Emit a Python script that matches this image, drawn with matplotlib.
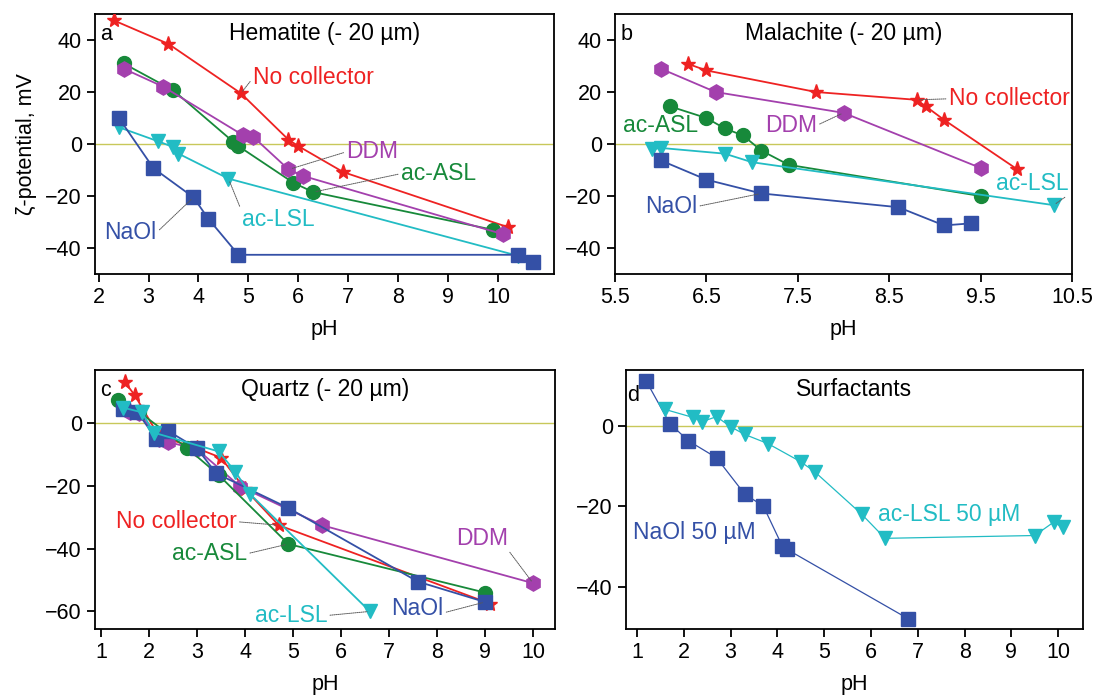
import matplotlib.pyplot as plt

plt.rcParams['font.family'] = ['Liberation Sans', 'DejaVu Sans']
plt.rcParams['font.size'] = 15.5
plt.rcParams['axes.linewidth'] = 1.3

RED = '#ee2222'
PURPLE = '#a340ad'
GREEN = '#17893a'
CYAN = '#22bcc4'
BLUE = '#3450a6'
ZERO = '#c8c85a'

# (a) Hematite
hem_nc_ph = [2.3, 3.4, 4.85, 5.8, 6.0, 6.9, 10.2]
hem_nc_zeta = [47.6, 38.5, 19.5, 1.7, -0.8, -10.8, -32]
hem_ddm_ph = [2.5, 3.3, 4.9, 5.1, 5.8, 6.1, 10.1]
hem_ddm_zeta = [29, 22, 3.3, 2.7, -9.7, -12.3, -34.7]
hem_asl_ph = [2.5, 3.5, 4.7, 4.8, 5.9, 6.3, 9.9]
hem_asl_zeta = [31, 20.6, 0.8, -0.8, -14.9, -18.5, -33]
hem_lsl_ph = [2.4, 3.2, 3.5, 3.6, 4.6, 10.4]
hem_lsl_zeta = [6.5, 1, -1.2, -3.7, -13.3, -43]
hem_naol_ph = [2.4, 3.1, 3.9, 4.2, 4.8, 10.4, 10.7]
hem_naol_zeta = [10.2, -9.3, -20.5, -28.8, -42.6, -42.6, -45.2]

# (b) Malachite
mal_nc_ph = [6.3, 6.5, 7.7, 8.8, 8.9, 9.1, 9.9]
mal_nc_zeta = [30.8, 28.3, 20, 17, 14.5, 9.3, -9.7]
mal_ddm_ph = [6.0, 6.6, 8.0, 9.5]
mal_ddm_zeta = [29, 20, 12, -9.2]
mal_asl_ph = [6.1, 6.5, 6.7, 6.9, 7.1, 7.4, 9.5]
mal_asl_zeta = [14.5, 10, 6, 3.3, -2.5, -8, -20]
mal_lsl_ph = [5.9, 6.0, 6.7, 7.0, 10.3]
mal_lsl_zeta = [-2, -1.5, -3.7, -7, -23.5]
mal_naol_ph = [6.0, 6.5, 7.1, 8.6, 9.1, 9.4]
mal_naol_zeta = [-6.3, -13.7, -19, -24.3, -31.3, -30.5]

# (c) Quartz
qtz_nc_ph = [1.5, 1.7, 2.2, 3.0, 3.5, 4.0, 4.7, 9.1]
qtz_nc_zeta = [13, 9, -4, -8, -11, -21, -32.5, -57.5]
qtz_ddm_ph = [1.6, 1.8, 2.2, 2.4, 3.0, 3.9, 5.6, 10.0]
qtz_ddm_zeta = [3.7, 3.2, -5, -6, -8.3, -20.2, -32.5, -51]
qtz_asl_ph = [1.35, 1.8, 2.8, 3.45, 4.9, 9.0]
qtz_asl_zeta = [7.5, 3.5, -8, -16.5, -38.5, -54]
qtz_lsl_ph = [1.45, 1.85, 2.1, 3.45, 3.8, 4.1, 6.6]
qtz_lsl_zeta = [5, 3.5, -3, -9, -15.5, -22.5, -60]
qtz_naol_ph = [1.45, 1.75, 2.15, 2.4, 3.0, 3.4, 4.9, 7.6, 9.0]
qtz_naol_zeta = [4.5, 3.7, -5, -2.5, -8, -16, -27, -50.5, -57]

# (d) Surfactants
surf_naol_ph = [1.2, 1.7, 2.1, 2.7, 3.3, 3.7, 4.1, 4.2, 6.8]
surf_naol_zeta = [11, 0.5, -3.8, -8, -17, -20, -29.8, -30.7, -48]
surf_lsl_ph = [1.6, 2.2, 2.4, 2.7, 3.0, 3.3, 3.8, 4.5, 4.8, 5.8, 6.3, 9.5, 9.9, 10.1]
surf_lsl_zeta = [4, 2, 1, 2.2, -0.3, -2.2, -4.5, -9, -11.5, -22, -28, -27.3, -24, -25.3]

STYLE = {
    'nc': dict(color=RED, marker='*', ms=11),
    'ddm': dict(color=PURPLE, marker='h', ms=11),
    'asl': dict(color=GREEN, marker='o', ms=10),
    'lsl': dict(color=CYAN, marker='v', ms=10),
    'naol': dict(color=BLUE, marker='s', ms=9.5),
}

fig = plt.figure(figsize=(11.04, 6.98), dpi=100)
ax_a = fig.add_axes([0.0861, 0.6074, 0.4158, 0.3725])
ax_b = fig.add_axes([0.5571, 0.6074, 0.4139, 0.3725])
ax_c = fig.add_axes([0.0861, 0.0989, 0.4167, 0.3711])
ax_d = fig.add_axes([0.567, 0.0989, 0.414, 0.3711])


def series(ax, x, y, key, lw=1.3, z=3):
    st = STYLE[key]
    ax.plot(x, y, color=st['color'], lw=lw, marker=st['marker'], ms=st['ms'],
            mec=st['color'], mfc=st['color'], zorder=z)


def label(ax, text, xytext, xy, color, relpos=(0, 0.5)):
    if xy is None:
        ax.text(xytext[0], xytext[1], text, color=color, fontsize=16.5,
                ha='left', va='center', zorder=5)
        return
    ax.annotate(text, xy=xy, xytext=xytext, color=color, fontsize=16.5,
                ha='left', va='center', zorder=5,
                arrowprops=dict(arrowstyle='-', ls=(0, (1, 1)), lw=0.7,
                                color='0.35', relpos=relpos, shrinkA=0,
                                shrinkB=2))


def frame(ax, xlim, ylim, xticks, yticks, title, letter):
    ax.set_xlim(*xlim)
    ax.set_ylim(*ylim)
    ax.set_xticks(xticks)
    ax.set_yticks(yticks)
    ax.axhline(0, color=ZERO, lw=1.0, zorder=1)
    ax.tick_params(direction='out', length=6, width=1.3, labelsize=15.5,
                   top=False, right=False)
    ax.set_xlabel('pH', fontsize=15.5, labelpad=8)
    ax.text(0.5, 0.925, title, transform=ax.transAxes, ha='center',
            va='center', fontsize=16.5)
    ax.text(0.012, 0.92, letter, transform=ax.transAxes, ha='left',
            va='center', fontsize=15.5)


# panel a
frame(ax_a, (1.93, 11.12), (-50, 50), range(2, 11), [-40, -20, 0, 20, 40],
      'Hematite (- 20 µm)', 'a')
series(ax_a, hem_nc_ph, hem_nc_zeta, 'nc')
series(ax_a, hem_asl_ph, hem_asl_zeta, 'asl')
series(ax_a, hem_ddm_ph, hem_ddm_zeta, 'ddm')
series(ax_a, hem_lsl_ph, hem_lsl_zeta, 'lsl')
series(ax_a, hem_naol_ph, hem_naol_zeta, 'naol')
ax_a.set_ylabel('ζ-potential, mV', fontsize=15.5, labelpad=6)
label(ax_a, 'No collector', (5.09, 25.4), (4.85, 19.5), RED)
label(ax_a, 'DDM', (6.96, -3), (5.82, -9.7), PURPLE)
label(ax_a, 'ac-ASL', (8.05, -11.4), (6.3, -18.5), GREEN)
label(ax_a, 'ac-LSL', (4.88, -29.2), (4.6, -13.3), CYAN, relpos=(0, 0.8))
label(ax_a, 'NaOl', (2.12, -34), (3.9, -20.5), BLUE, relpos=(1, 0.5))

# panel b
frame(ax_b, (5.5, 10.5), (-50, 50), [5.5, 6.5, 7.5, 8.5, 9.5, 10.5],
      [-40, -20, 0, 20, 40], 'Malachite (- 20 µm)', 'b')
series(ax_b, mal_nc_ph, mal_nc_zeta, 'nc')
series(ax_b, mal_ddm_ph, mal_ddm_zeta, 'ddm')
series(ax_b, mal_asl_ph, mal_asl_zeta, 'asl')
series(ax_b, mal_lsl_ph, mal_lsl_zeta, 'lsl')
series(ax_b, mal_naol_ph, mal_naol_zeta, 'naol')
label(ax_b, 'No collector', (9.15, 17.4), (8.8, 17), RED)
label(ax_b, 'DDM', (7.14, 7.2), (8.0, 12), PURPLE, relpos=(1, 0.5))
label(ax_b, 'ac-ASL', (5.59, 7.2), None, GREEN)
label(ax_b, 'ac-LSL', (9.67, -15), (10.3, -23.5), CYAN, relpos=(1, 0))
label(ax_b, 'NaOl', (5.83, -24), (7.1, -19), BLUE, relpos=(1, 0.5))

# panel c - the no-collector curve sits under the others here
frame(ax_c, (0.875, 10.46), (-65.6, 17), range(1, 11), [-60, -40, -20, 0],
      'Quartz (- 20 µm)', 'c')
series(ax_c, qtz_nc_ph, qtz_nc_zeta, 'nc', z=2)
series(ax_c, qtz_ddm_ph, qtz_ddm_zeta, 'ddm')
series(ax_c, qtz_asl_ph, qtz_asl_zeta, 'asl')
series(ax_c, qtz_naol_ph, qtz_naol_zeta, 'naol')
series(ax_c, qtz_lsl_ph, qtz_lsl_zeta, 'lsl')
label(ax_c, 'No collector', (1.31, -31.4), (4.7, -32.5), RED, relpos=(1, 0.5))
label(ax_c, 'ac-ASL', (2.48, -41.6), (4.9, -38.5), GREEN, relpos=(1, 0.5))
label(ax_c, 'ac-LSL', (4.2, -61.3), (6.6, -60), CYAN, relpos=(1, 0.5))
label(ax_c, 'NaOl', (7.05, -59), (9.0, -57), BLUE, relpos=(1, 0.3))
label(ax_c, 'DDM', (8.39, -36.6), (10.0, -51), PURPLE, relpos=(1, 0))

# panel d
frame(ax_d, (0.765, 10.53), (-50.5, 13.8), range(1, 11), [-40, -20, 0],
      'Surfactants', 'd')
ax_d.texts[-1].set_position((0.003, 0.9))
series(ax_d, surf_naol_ph, surf_naol_zeta, 'naol', lw=0.9)
series(ax_d, surf_lsl_ph, surf_lsl_zeta, 'lsl', lw=0.9)
label(ax_d, 'NaOl 50 µM', (0.91, -26.6), None, BLUE)
label(ax_d, 'ac-LSL 50 µM', (6.15, -22), None, CYAN)

fig.savefig('out.png', dpi=100)
